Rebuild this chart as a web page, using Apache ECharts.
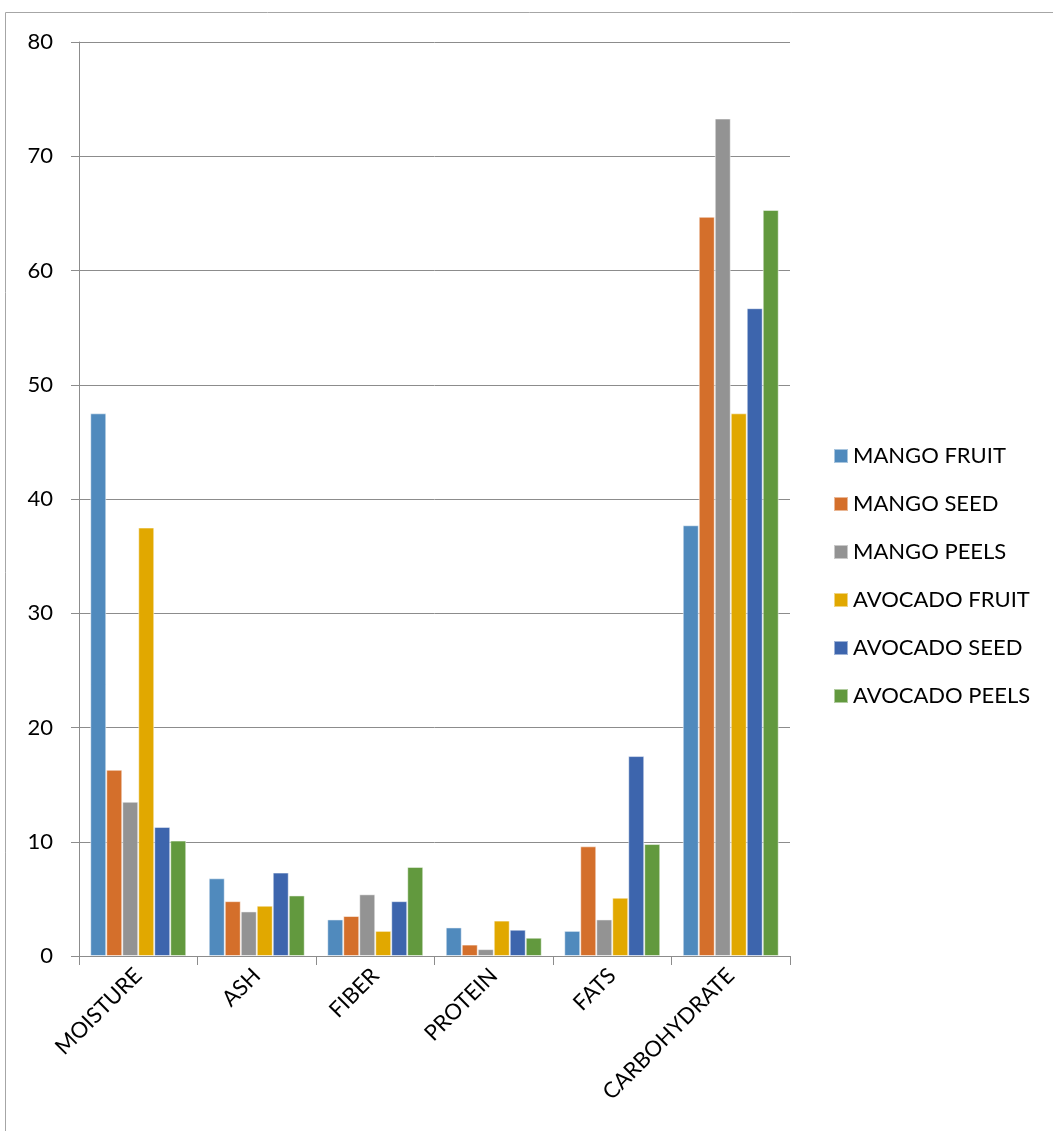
<!DOCTYPE html>
<html>
<head>
<meta charset="utf-8">
<script src="https://cdn.jsdelivr.net/npm/echarts@6/dist/echarts.min.js"></script>
<style>
  html, body { margin: 0; padding: 0; background: #fff; }
  #chart { width: 1053px; height: 1131px; }
</style>
</head>
<body>
<div id="chart"></div>
<script>
// categories and series
var categories = ["MOISTURE", "ASH", "FIBER", "PROTEIN", "FATS", "CARBOHYDRATE"];
var seriesNames = ["MANGO FRUIT", "MANGO SEED", "MANGO PEELS", "AVOCADO FRUIT", "AVOCADO SEED", "AVOCADO PEELS"];
var mangoFruit = [47.5, 6.8, 3.2, 2.5, 2.2, 37.7];
var mangoSeed = [16.3, 4.8, 3.5, 1.0, 9.6, 64.7];
var mangoPeels = [13.5, 3.9, 5.4, 0.6, 3.2, 73.3];
var avocadoFruit = [37.5, 4.4, 2.2, 3.1, 5.1, 47.5];
var avocadoSeed = [11.3, 7.3, 4.8, 2.3, 17.5, 56.7];
var avocadoPeels = [10.1, 5.3, 7.8, 1.6, 9.8, 65.3];
var colors = ["#508ABD", "#D46F2B", "#939393", "#E1A800", "#3D65AD", "#62993E"];

var allData = [mangoFruit, mangoSeed, mangoPeels, avocadoFruit, avocadoSeed, avocadoPeels];
var font = "Lato, 'Open Sans', sans-serif";

var chart = echarts.init(document.getElementById("chart"));
chart.setOption({
  animation: false,
  color: colors,
  textStyle: { fontFamily: font },
  graphic: [{
    type: "rect",
    shape: { x: 5.5, y: 12.5, width: 1100, height: 1200 },
    style: { fill: "none", stroke: "#a6a6a6", lineWidth: 1 },
    silent: true
  }],
  grid: { left: 79, right: 263, top: 42, bottom: 175 },
  legend: {
    orient: "vertical",
    left: 828,
    top: 440,
    itemWidth: 14,
    itemHeight: 14,
    itemGap: 26,
    icon: "rect",
    textStyle: { fontSize: 22, color: "#000", fontFamily: font },
    data: seriesNames
  },
  xAxis: {
    type: "category",
    data: categories,
    axisLine: { lineStyle: { color: "#8c8c8c" } },
    axisTick: { show: true, length: 9, lineStyle: { color: "#8c8c8c" } },
    axisLabel: { rotate: 45, fontSize: 22, color: "#000", margin: 16, fontFamily: font }
  },
  yAxis: {
    type: "value",
    min: 0,
    max: 80,
    interval: 10,
    axisLine: { show: true, lineStyle: { color: "#8c8c8c" } },
    axisTick: { show: true, length: 8, lineStyle: { color: "#8c8c8c" } },
    splitLine: { lineStyle: { color: "#8c8c8c" } },
    axisLabel: { fontSize: 22, color: "#000", margin: 26, fontFamily: font }
  },
  series: seriesNames.map(function (name, i) {
    return {
      name: name,
      type: "bar",
      data: allData[i],
      barGap: "0%",
      barCategoryGap: "19%",
      itemStyle: { color: colors[i], borderColor: "rgba(255,255,255,0.5)", borderWidth: 1 }
    };
  })
});
</script>
</body>
</html>
